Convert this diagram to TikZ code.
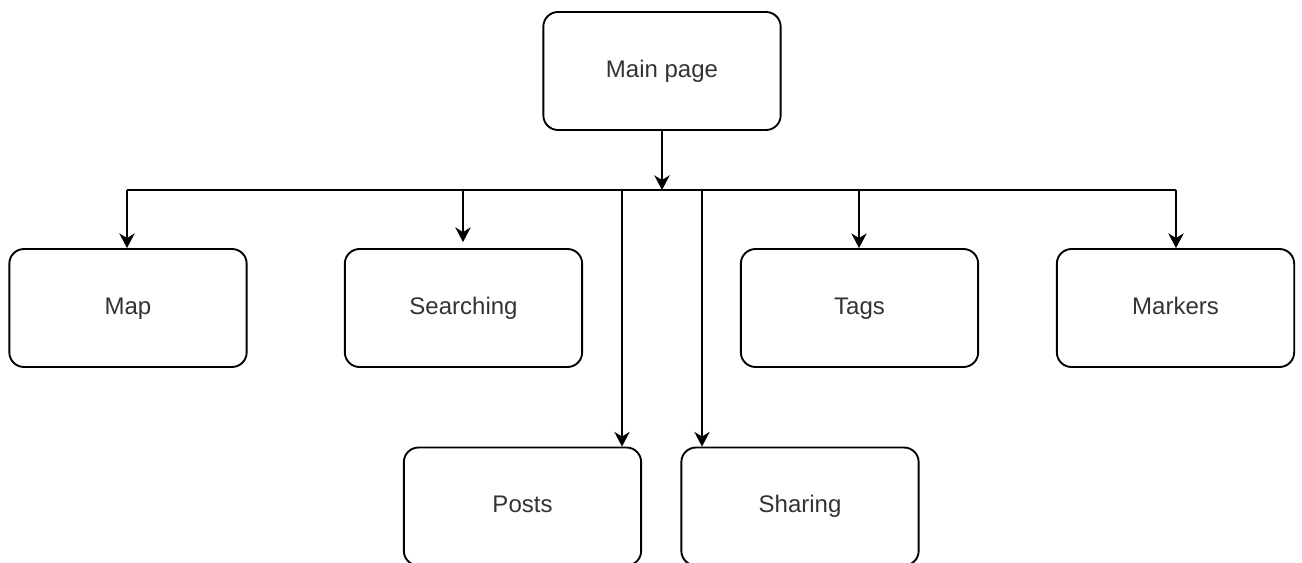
\documentclass[tikz,border=0pt]{standalone}
\usepackage{fontspec}
\setmainfont{Liberation Sans}
\usetikzlibrary{arrows.meta,calc}
\begin{document}
\begin{tikzpicture}[x=0.75pt,y=-0.75pt,
  box/.style={draw, line width=1.4pt, rounded corners=11pt, minimum width=178pt, minimum height=88.5pt, inner sep=0pt, font=\fontsize{18}{20}\selectfont, text height=12.5pt, text depth=3.5pt, text=black!80},
  conn/.style={line width=1.4pt},
  arr/.style={conn, -{Stealth[length=11pt,width=11.5pt,inset=3.5pt]}}]
\useasboundingbox (0,0) rectangle (1302,562);
\clip (0,0) rectangle (1302,562);
\fill[white] (0,0) rectangle (1302,562);
\node[box] (main) at (662,71) {Main page};
\node[box] (map) at (128,308) {Map};
\node[box] (search) at (463.5,308) {Searching};
\node[box] (tags) at (859.5,308) {Tags};
\node[box] (markers) at (1175.5,308) {Markers};
\node[box] (posts) at (522.5,506.5) {Posts};
\node[box] (sharing) at (800,506.5) {Sharing};
\coordinate (J) at (662,190);
\coordinate (L) at (127,190);
\coordinate (R) at (1176,190);
\coordinate (P) at (622,190);
\coordinate (S) at (702,190);
\coordinate (Q) at (463,190);
\coordinate (T) at (859,190);
\draw[conn] (L) -- (R);
\draw[arr] (main.south) -- (J);
\draw[arr] (L) -- (L |- map.north);
\draw[arr, shorten >=4.5pt] (Q) -- (Q |- search.north);
\draw[arr] (T) -- (T |- tags.north);
\draw[arr] (R) -- (R |- markers.north);
\draw[arr] (P) -- (P |- posts.north);
\draw[arr] (S) -- (S |- sharing.north);
\end{tikzpicture}
\end{document}
